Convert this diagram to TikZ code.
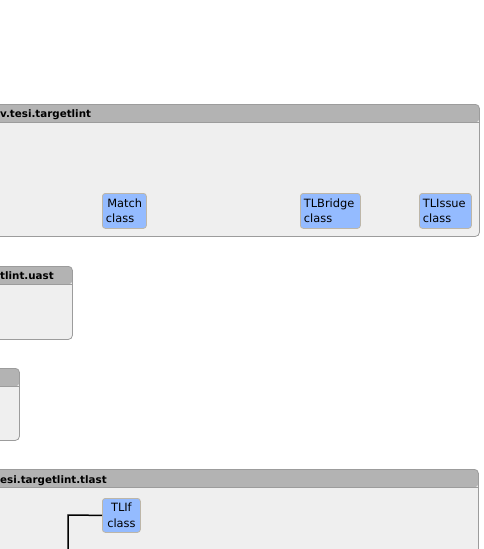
\documentclass[tikz,border=0pt]{standalone}
\usepackage{fontspec}
\setmainfont{DejaVu Sans}
\definecolor{pkgbody}{HTML}{EFEFEF}
\definecolor{pkgborder}{HTML}{9C9C9C}
\definecolor{pkghead}{HTML}{B3B3B3}
\definecolor{clsfill}{HTML}{94BBFF}
\definecolor{clsborder}{HTML}{BDB6A8}
\tikzset{
  pkg/.style={draw=pkgborder, line width=0.8pt, fill=pkgbody, rounded corners=4pt,
    anchor=north west, inner sep=0pt,
    path picture={\fill[pkghead] (path picture bounding box.north west) rectangle ([yshift=-18pt]path picture bounding box.north east);
                  \draw[pkgborder, line width=0.8pt] ([yshift=-18pt]path picture bounding box.north west) -- ([yshift=-18pt]path picture bounding box.north east);}},
  pkgtitle/.style={anchor=base west, inner sep=0pt, font=\fontsize{10.3}{12}\selectfont\bfseries},
  cls/.style={draw=clsborder, line width=0.8pt, fill=clsfill, rounded corners=3pt,
    anchor=north west, inner xsep=3.5pt, inner ysep=0pt, font=\fontsize{11.4}{15.5}\selectfont},
  dep/.style={draw=black, line width=1.5pt}
}
\begin{document}
\begin{tikzpicture}[x=1pt,y=-1pt]
\useasboundingbox (0,0) rectangle (484,549);
\clip (0,0) rectangle (484,549);
% packages
\node[pkg, minimum width=490pt, minimum height=132pt] (p1) at (-11,104) {};
\node[pkgtitle] (t1) at (0,117) {v.tesi.targetlint};
\node[pkg, minimum width=83pt, minimum height=73pt] (p2) at (-11,266) {};
\node[pkgtitle] (t2) at (0,279) {tlint.uast};
\node[pkg, minimum width=30pt, minimum height=72pt] (p3) at (-11,368) {};
\node[pkg, minimum width=489pt, minimum height=100pt] (p4) at (-11,469) {};
\node[pkgtitle] (t4) at (0,483) {esi.targetlint.tlast};
% classes
\node[cls, minimum width=44pt, minimum height=35pt, align=left, text width=37pt] (match) at (102,193) {\hspace*{1.5pt}Match\\class};
\node[cls, minimum width=60pt, minimum height=35pt, align=left, text width=53pt] (bridge) at (300,193) {TLBridge\\class};
\node[cls, minimum width=52pt, minimum height=35pt, align=left, text width=45pt] (issue) at (419,193) {TLIssue\\class};
\node[cls, minimum width=38pt, minimum height=34pt, align=center, text width=31pt] (tlif) at (102,498) {TLIf\\class};
% connector
\coordinate (bend) at (68,515);
\coordinate (down) at (68,560);
\draw[dep] (tlif.west) -- (bend) -- (down);
\end{tikzpicture}
\end{document}
